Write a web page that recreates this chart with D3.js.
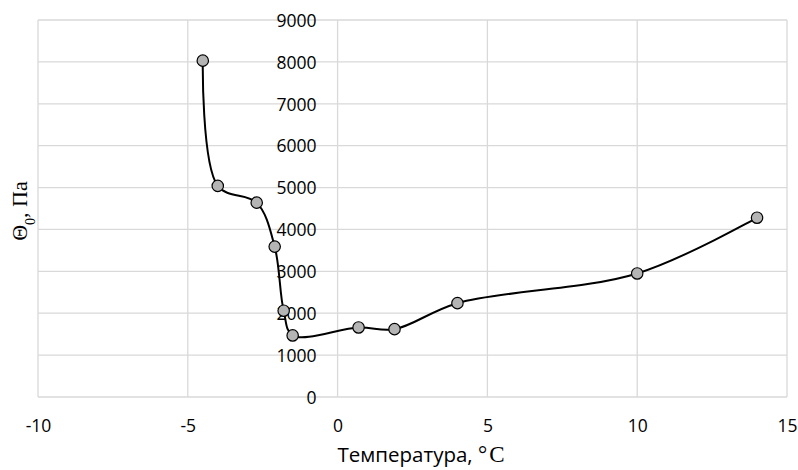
<!DOCTYPE html>
<html><head><meta charset="utf-8">
<script src="https://cdn.jsdelivr.net/npm/d3@7/dist/d3.min.js"></script>
<style>
html,body{margin:0;padding:0;background:#fff;}
svg{display:block;}
.tick text{font-family:"Open Sans","Liberation Sans",Arial,sans-serif;font-size:17.5px;fill:#000;}
</style></head>
<body>
<svg id="chart" width="798" height="470"></svg>
<script>
const temperatures = [-4.5, -4.0, -2.7, -2.1, -1.8, -1.5, 0.7, 1.9, 4.0, 10.0, 14.0];
const stressValues = [8030, 5040, 4640, 3590, 2060, 1470, 1660, 1620, 2240, 2950, 4280];
const xTicks = [-10, -5, 0, 5, 10, 15];
const yTicks = [0, 1000, 2000, 3000, 4000, 5000, 6000, 7000, 8000, 9000];

const svg = d3.select("#chart");
const L = 38, R = 787, T = 20, B = 397;
const x = d3.scaleLinear().domain([-10, 15]).range([L, R]);
const y = d3.scaleLinear().domain([0, 9000]).range([B, T]);
const grid = "#d9d9d9";

// vertical gridlines
svg.append("g").selectAll("line").data(xTicks).join("line")
  .attr("x1", d => x(d)).attr("x2", d => x(d)).attr("y1", T).attr("y2", B)
  .attr("stroke", grid).attr("stroke-width", 1.3);
// horizontal gridlines
svg.append("g").selectAll("line").data(yTicks).join("line")
  .attr("x1", L).attr("x2", R).attr("y1", d => y(d)).attr("y2", d => y(d))
  .attr("stroke", grid).attr("stroke-width", 1.3);

// y axis at x=0 (labels only)
const yAxis = svg.append("g").attr("transform", `translate(${x(0)},0)`)
  .call(d3.axisLeft(y).tickValues(yTicks).tickSize(0).tickPadding(21).tickFormat(d => String(d)));
yAxis.select(".domain").remove();
yAxis.selectAll(".tick text").attr("dy", "0.36em");

// x axis labels at bottom
const xAxis = svg.append("g").attr("transform", `translate(0,${B})`)
  .call(d3.axisBottom(x).tickValues(xTicks).tickSize(0).tickFormat(d => String(d)));
xAxis.select(".domain").remove();
xAxis.selectAll(".tick text").attr("y", 35).attr("dy", 0);

// data
const data = temperatures.map((t, i) => ({t, v: stressValues[i]}));
const line = d3.line().x(d => x(d.t)).y(d => y(d.v)).curve(d3.curveCatmullRom.alpha(0.5));
svg.append("path").datum(data).attr("d", line)
  .attr("fill", "none").attr("stroke", "#000").attr("stroke-width", 2);
svg.append("g").selectAll("circle").data(data).join("circle")
  .attr("cx", d => x(d.t)).attr("cy", d => y(d.v)).attr("r", 5.7)
  .attr("fill", "#b4b4b4").attr("stroke", "#000").attr("stroke-width", 1.2);

// axis titles
const xt = svg.append("text").attr("x", 422).attr("y", 462).attr("text-anchor", "middle")
  .style("font-family", "'Open Sans','Liberation Sans',Arial,sans-serif").style("font-size", "20.5px");
xt.append("tspan").text("Температура, ");
xt.append("tspan").style("font-family", "'Liberation Serif','Times New Roman',serif")
  .style("font-size", "23px").style("letter-spacing", "2px").text("°C");

const yt = svg.append("text").attr("transform", "translate(27,211) rotate(-90)").attr("text-anchor", "middle")
  .style("font-family", "'Liberation Serif','Times New Roman',serif").style("font-size", "22px");
yt.append("tspan").text("Θ");
yt.append("tspan").attr("baseline-shift", "sub").style("font-size", "14px").text("0");
yt.append("tspan").text(", Па");
</script>
</body></html>
